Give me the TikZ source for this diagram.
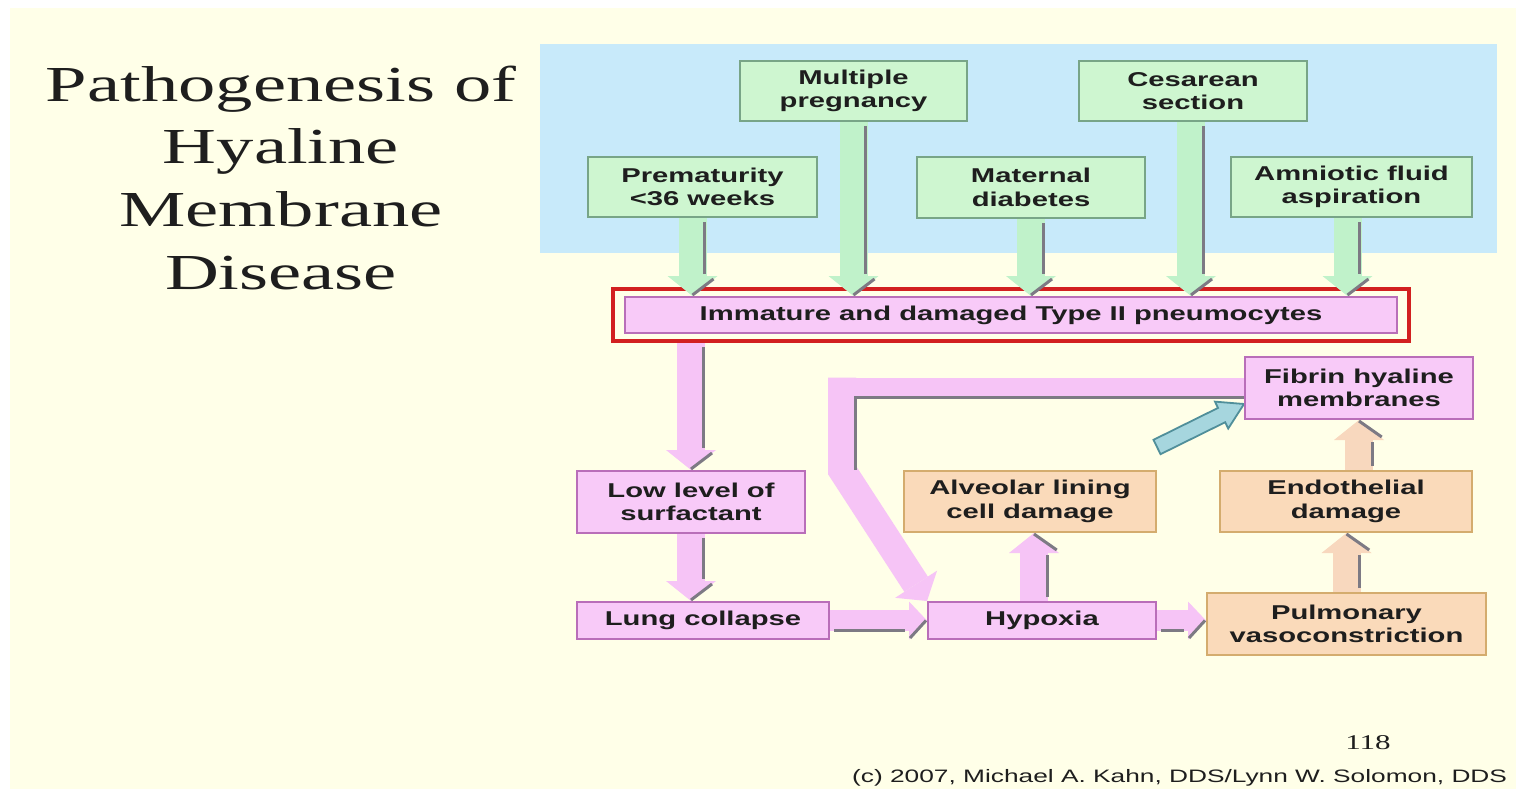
\documentclass[tikz,border=0pt]{standalone}
\usepackage{fontspec}
\newfontfamily\boxfont[FakeStretch=1.46]{Liberation Sans}
\newfontfamily\titlefont[FakeStretch=1.48]{Liberation Serif}
\usetikzlibrary{arrows.meta,calc,fit,decorations.markings}

\definecolor{cream}{RGB}{255,255,232}
\definecolor{panelblue}{RGB}{200,234,250}
\definecolor{textdark}{RGB}{30,30,30}
\definecolor{greenfill}{RGB}{206,246,208}
\definecolor{greenedge}{RGB}{120,165,135}
\definecolor{greenarrow}{RGB}{192,242,202}
\definecolor{pinkfill}{RGB}{248,202,248}
\definecolor{pinkedge}{RGB}{185,110,185}
\definecolor{pinkarrow}{RGB}{246,196,246}
\definecolor{peachfill}{RGB}{250,218,186}
\definecolor{peachedge}{RGB}{212,172,110}
\definecolor{peacharrow}{RGB}{248,216,190}
\definecolor{framered}{RGB}{210,32,32}
\definecolor{shadegray}{RGB}{125,122,132}
\definecolor{bluefill}{RGB}{166,214,222}
\definecolor{blueedge}{RGB}{80,143,154}

\pgfdeclarelayer{back}
\pgfdeclarelayer{links}
\pgfsetlayers{back,links,main}

\tikzset{
  box/.style={draw, line width=2pt, inner sep=0pt, align=center, text=textdark,
    font=\boxfont\bfseries\fontsize{20}{23.5}\selectfont},
  greenbox/.style={box, fill=greenfill, draw=greenedge},
  pinkbox/.style={box, fill=pinkfill, draw=pinkedge},
  peachbox/.style={box, fill=peachfill, draw=peachedge},
  vband/.style={line width=28pt, -{Triangle[width=50pt, length=20pt, line width=0pt]}},
  hband/.style={line width=21pt, -{Triangle[width=38pt, length=18pt, line width=0pt]}},
  shadeline/.style={draw=shadegray, line width=3pt},
  % grey edge along one side of a band, and along its head
  relief/.style={postaction={decorate, decoration={markings,
    mark=at position 1 with {
      \draw[-, shadeline] ({-\pgfdecoratedpathlength+4pt}, {#1}) -- (-22pt, {#1});
      \draw[-, shadeline] (-17pt, {1.75*(#1)}) -- (-1pt, 0pt);
    }}}},
  bluearrow/.style={fill=bluefill, draw=blueedge, line width=1.8pt, line join=miter},
}

\begin{document}
\begin{tikzpicture}[x=1pt, y=-1pt]
\useasboundingbox (0,0) rectangle (1516,789);

% Title
\node[align=center, anchor=north, inner sep=0pt, text=textdark,
  font=\titlefont\fontsize{50.4}{62.7}\selectfont] (title) at (281,65.5)
  {Pathogenesis of\\Hyaline\\Membrane\\Disease};

% Risk factors
\node[greenbox, minimum width=227pt, minimum height=60pt] (preg) at (853.5,91) {Multiple\\pregnancy};
\node[greenbox, minimum width=228pt, minimum height=60pt] (ces) at (1193,91) {Cesarean\\section};
\node[greenbox, minimum width=229pt, minimum height=60pt] (prem) at (702.5,187) {Prematurity\\<36 weeks};
\node[greenbox, minimum width=228pt, minimum height=61pt] (diab) at (1031,187.5) {Maternal\\diabetes};
\node[greenbox, minimum width=241pt, minimum height=60pt] (amn) at (1351.5,187) {Amniotic fluid\\aspiration};

% Pneumocytes
\node[pinkbox, minimum width=772pt, minimum height=36pt] (immat) at (1011,315) {Immature and damaged Type II pneumocytes};

% Consequences
\node[pinkbox, minimum width=228pt, minimum height=62pt] (fibrin) at (1359,388) {Fibrin hyaline\\membranes};
\node[pinkbox, minimum width=228pt, minimum height=62pt] (low) at (691,502) {Low level of\\surfactant};
\node[pinkbox, minimum width=252pt, minimum height=37pt] (lung) at (703,620.5) {Lung collapse};
\node[pinkbox, minimum width=228pt, minimum height=37pt] (hyp) at (1042,620.5) {Hypoxia};
\node[peachbox, minimum width=252pt, minimum height=61pt] (alv) at (1030,501.5) {Alveolar lining\\cell damage};
\node[peachbox, minimum width=252pt, minimum height=61pt] (endo) at (1346,501.5) {Endothelial\\damage};
\node[peachbox, minimum width=279pt, minimum height=62pt] (pulm) at (1346.5,624) {Pulmonary\\vasoconstriction};

% Page number and credit
\node[anchor=base, inner sep=0pt, text=textdark, font=\titlefont\fontsize{21}{21}\selectfont] (pageno) at (1368,749) {118};
\node[anchor=base west, inner sep=0pt, text=textdark, font=\boxfont\fontsize{18}{18}\selectfont] (credit) at (852,782)
  {(c) 2007, Michael A. Kahn, DDS/Lynn W. Solomon, DDS};

\begin{pgfonlayer}{back}
  \fill[white] (0,0) rectangle (1516,789);
  \fill[cream] (10,8) rectangle (1516,789);
  \fill[panelblue] (540,44) rectangle (1497,253);
  \node[draw=framered, line width=4pt, inner xsep=11pt, inner ysep=7pt, fit=(immat)] (immatbox) {};
\end{pgfonlayer}

\begin{pgfonlayer}{links}
% Risk factors into the pneumocytes
\foreach \src/\dx in {prem/-10, preg/0, diab/0, ces/-2, amn/-4}
  \draw[vband, draw=greenarrow, relief=12pt] ($(\src.south)+(\dx,0)$) -- ($(\src.south |- immat.north)+(\dx,0)$);

% Down the left column
\draw[vband, draw=pinkarrow, relief=12pt] (low.north |- immatbox.south) -- (low.north);
\draw[vband, draw=pinkarrow, relief=12pt] (low.south) -- (low.south |- lung.north);
\draw[hband, draw=pinkarrow, relief=-10pt] (lung.east) -- (hyp.west);
\draw[hband, draw=pinkarrow, relief=-10pt] (hyp.east) -- (hyp.east -| pulm.west);

% Upwards
\draw[vband, draw=pinkarrow, relief=-13pt] ($(hyp.north)+(-8,0)$) -- ($(hyp.north |- alv.south)+(-8,0)$);
\draw[vband, draw=peacharrow, relief=-13pt] (pulm.north) -- (pulm.north |- endo.south);
\draw[vband, draw=peacharrow, relief=-13pt] (fibrin.south |- endo.north) -- (fibrin.south);

% Loop from the membranes back to hypoxia
\coordinate (loopcorner) at (842,377.5);
\coordinate (loopbend) at (842,470);
\draw[draw=pinkarrow, line width=21pt] (fibrin.west) -- ($(loopcorner |- fibrin.west)+(-14,0)$);
\draw[vband, draw=pinkarrow] (loopcorner) -- (loopbend) -- (hyp.north west);
\draw[shadeline] ($(fibrin.west)+(0,9)$) -| ($(loopbend)+(13,0)$);

% Alveolar damage towards the membranes
\coordinate (btail) at (1157,447);
\coordinate (btip) at ($(fibrin.south west)+(0,-16)$);
\coordinate (bbase) at ($(btip)!25pt!(btail)$);
\filldraw[bluearrow] ($(btail)!8pt!90:(btip)$) -- ($(bbase)!8pt!90:(btip)$)
  -- ($(bbase)!15pt!90:(btip)$) -- (btip) -- ($(bbase)!15pt!-90:(btip)$)
  -- ($(bbase)!8pt!-90:(btip)$) -- ($(btail)!8pt!-90:(btip)$) -- cycle;
\end{pgfonlayer}

\end{tikzpicture}
\end{document}
